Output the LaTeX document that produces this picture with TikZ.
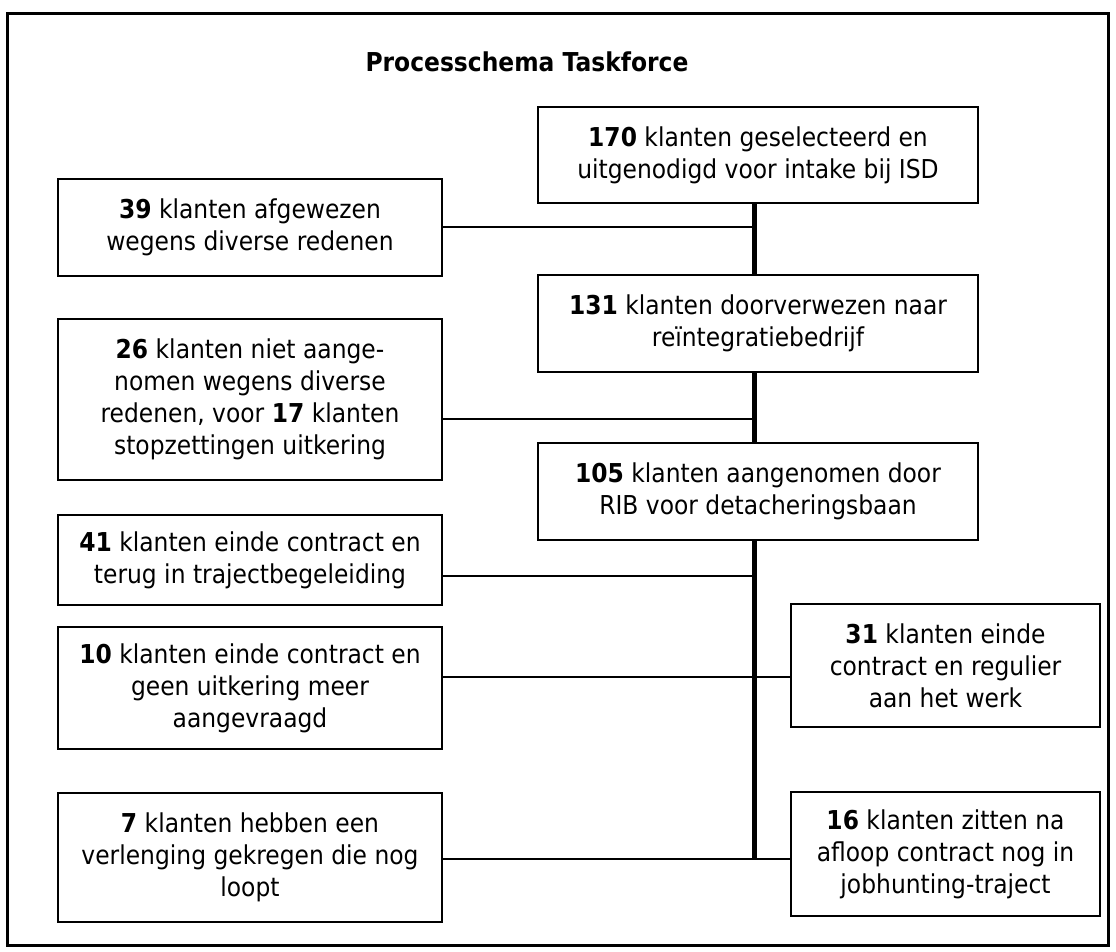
\documentclass[tikz,border=0pt]{standalone}
\usepackage{fontspec}
\setmainfont{DejaVu Sans}[FakeStretch=0.9]
\begin{document}
\begin{tikzpicture}[x=1pt,y=-1pt,
  box/.style={draw, line width=2pt, align=center, inner sep=0pt,
    font=\fontsize{26}{32}\selectfont},
  lbox/.style={box, minimum width=384pt},
  mbox/.style={box, minimum width=440pt},
  rbox/.style={box, minimum width=309pt},
  conn/.style={line width=1.6pt},
  spine/.style={line width=5pt}]
\useasboundingbox (0,0) rectangle (1116,952);
\draw[line width=3pt] (7.5,13.5) rectangle (1108.5,945);
\node[anchor=base west, font=\fontsize{26}{32}\selectfont\bfseries] (title) at (362,72) {Processchema Taskforce};
% middle column
\node[mbox, minimum height=96pt] (b170) at (758,155) {\textbf{170} klanten geselecteerd en\\uitgenodigd voor intake bij ISD};
\node[mbox, minimum height=97pt] (b131) at (758,323.5) {\textbf{131} klanten doorverwezen naar\\reïntegratiebedrijf};
\node[mbox, minimum height=97pt] (b105) at (758,491.5) {\textbf{105} klanten aangenomen door\\RIB voor detacheringsbaan};
% left column
\node[lbox, minimum height=97pt] (b39) at (250,227.5) {\textbf{39} klanten afgewezen\\wegens diverse redenen};
\node[lbox, minimum height=161pt] (b26) at (250,399.5) {\textbf{26} klanten niet aange-\\nomen wegens diverse\\redenen, voor \textbf{17} klanten\\stopzettingen uitkering};
\node[lbox, minimum height=90pt] (b41) at (250,560) {\textbf{41} klanten einde contract en\\terug in trajectbegeleiding};
\node[lbox, minimum height=122pt] (b10) at (250,688) {\textbf{10} klanten einde contract en\\geen uitkering meer\\aangevraagd};
\node[lbox, minimum height=129pt] (b7) at (250,857.5) {\textbf{7} klanten hebben een\\verlenging gekregen die nog\\loopt};
% right column
\node[rbox, minimum height=123pt] (b31) at (945.5,665.5) {\textbf{31} klanten einde\\contract en regulier\\aan het werk};
\node[rbox, minimum height=124pt] (b16) at (945.5,854) {\textbf{16} klanten zitten na\\afloop contract nog in\\jobhunting-traject};
% spine
\coordinate (sp) at (754,0);
\coordinate (r39) at (754,227);
\coordinate (r26) at (754,419);
\coordinate (r41) at (754,576);
\coordinate (r10) at (754,677);
\coordinate (r7) at (754,859);
\draw[spine] (b170.south -| sp) -- (b131.north -| sp);
\draw[spine] (b131.south -| sp) -- (b105.north -| sp);
\draw[spine] (b105.south -| sp) -- (r7);
% branches
\draw[conn] (r39 -| b39.east) -- (r39);
\draw[conn] (r26 -| b26.east) -- (r26);
\draw[conn] (r41 -| b41.east) -- (r41);
\draw[conn] (r10 -| b10.east) -- (r10 -| b31.west);
\draw[conn] (r7 -| b7.east) -- (r7 -| b16.west);
\end{tikzpicture}
\end{document}
